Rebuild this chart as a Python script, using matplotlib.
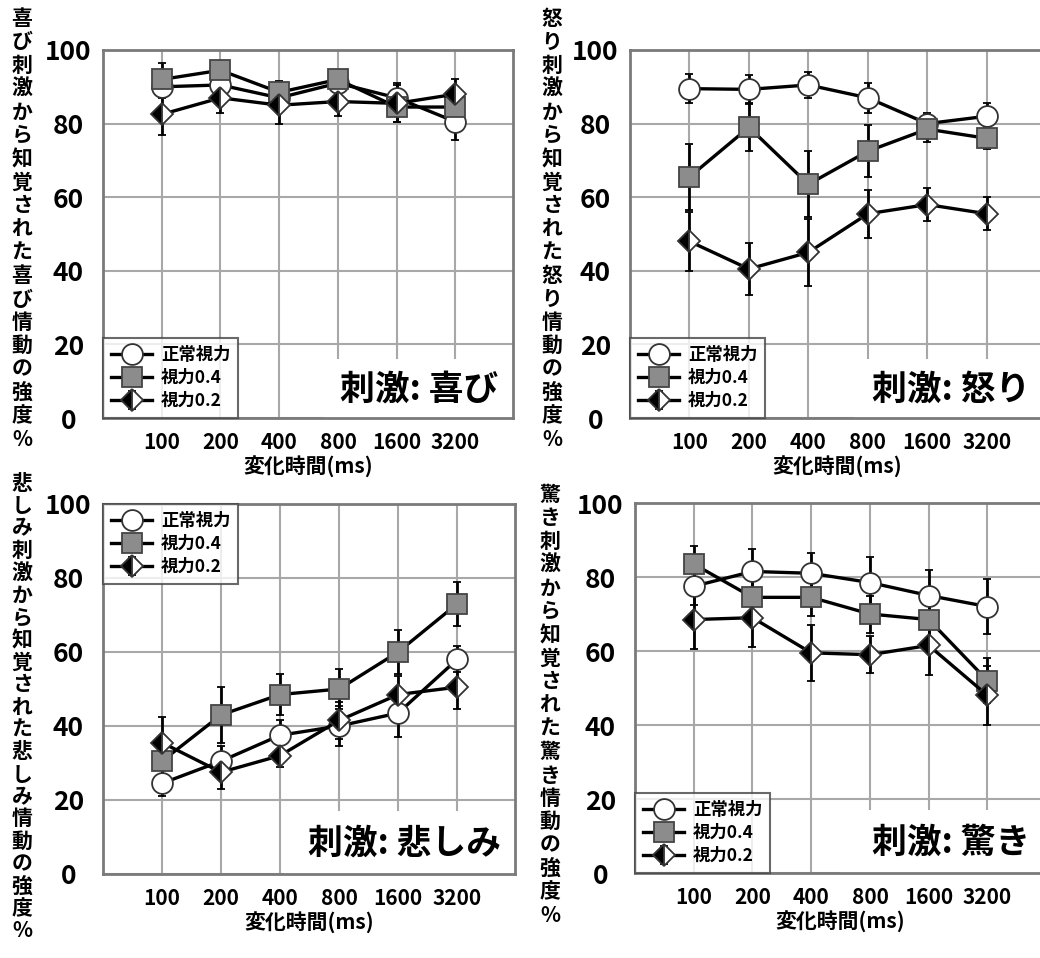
import numpy as np
import matplotlib
matplotlib.use('Agg')
import matplotlib.pyplot as plt
from matplotlib.patches import Rectangle

plt.rcParams['font.family'] = ['Noto Sans CJK JP', 'DejaVu Sans']
plt.rcParams['font.weight'] = 'bold'

x_labels = ['100', '200', '400', '800', '1600', '3200']
series_names = ['正常視力', '視力0.4', '視力0.2']

joy_normal = [90, 90.5, 87, 91, 87, 80.5]
joy_normal_err = [3, 3, 3, 2, 4, 5]
joy_04 = [92, 94.5, 88.5, 92, 84.5, 84.5]
joy_04_err = [4.5, 2, 3, 2, 4, 4]
joy_02 = [82.5, 87, 85, 86, 85.5, 88]
joy_02_err = [5.5, 4, 5, 4, 5, 4]

anger_normal = [89.5, 89.3, 90.5, 87, 80, 82]
anger_normal_err = [4, 4, 3.5, 4, 3, 3.5]
anger_04 = [65.5, 79, 63.5, 72.5, 78.5, 76]
anger_04_err = [9, 6.5, 9, 7, 3.5, 3]
anger_02 = [48, 40.5, 45, 55.5, 58, 55.5]
anger_02_err = [8, 7, 9, 6.5, 4.5, 4.5]

sad_normal = [24.5, 30.5, 37.5, 40, 43.5, 58]
sad_normal_err = [3.5, 4, 4, 5.5, 6.5, 3.5]
sad_04 = [30.5, 43, 48.5, 50, 60, 73]
sad_04_err = [5, 7.5, 5.5, 5.5, 6, 6]
sad_02 = [35.5, 27.5, 32, 41.5, 48.5, 50.5]
sad_02_err = [7, 4.5, 3, 5, 5, 6]

surp_normal = [77.5, 81.5, 81, 78.5, 75, 72]
surp_normal_err = [5, 6, 5.5, 7, 7, 7.5]
surp_04 = [83.5, 74.5, 74.5, 70, 68.5, 52]
surp_04_err = [5, 5, 5, 5, 5, 6]
surp_02 = [68.5, 69, 59.5, 59, 61.5, 48]
surp_02_err = [8, 8, 7.5, 5, 8, 8]

W, H = 1040, 958
fig = plt.figure(figsize=(W / 100, H / 100), dpi=100)

def add_ax(left, top, right, bottom):
    return fig.add_axes([left / W, 1 - bottom / H, (right - left) / W, (bottom - top) / H])

styles = [
    dict(marker='o', markersize=15, markerfacecolor='white', markeredgecolor='#333333'),
    dict(marker='s', markersize=15, markerfacecolor='#8c8c8c', markeredgecolor='#444444'),
    dict(marker='D', markersize=11.5, fillstyle='left', markerfacecolor='black',
         markerfacecoloralt='white', markeredgecolor='#333333'),
]

def panel(ax, data, errs, title, legend_loc, box):
    xs = np.arange(len(x_labels))
    for vals, err, st, name in zip(data, errs, styles, series_names):
        ax.errorbar(xs, vals, yerr=err, color='black', lw=2.4, elinewidth=2,
                    capsize=3, capthick=2, markeredgewidth=1.3, label=name,
                    zorder=3, **st)
    ax.set_xlim(-1.0, 5.98)
    ax.set_ylim(0, 100)
    ax.set_yticks([0, 20, 40, 60, 80, 100])
    ax.set_xticks(xs)
    ax.set_xticklabels(x_labels)
    ax.tick_params(axis='both', length=0)
    ax.tick_params(axis='y', labelsize=19, pad=25)
    ax.tick_params(axis='x', labelsize=15, pad=10)
    for lab in ax.get_yticklabels():
        lab.set_horizontalalignment('center')
        lab.set_fontweight('bold')
    for lab in ax.get_xticklabels():
        lab.set_fontweight('bold')
    ax.grid(True, color='#a8a8a8', lw=1.5)
    ax.set_axisbelow(True)
    for sp in ax.spines.values():
        sp.set_color('#7a7a7a')
        sp.set_linewidth(2)
    ax.set_xlabel('変化時間(ms)', fontsize=15, fontweight='bold', labelpad=2)
    ax.add_patch(Rectangle((box[0], 0), 1 - box[0], box[1], transform=ax.transAxes,
                           facecolor='white', edgecolor='none', zorder=1.5))
    ax.text(0.965, box[1] / 2, title, transform=ax.transAxes, ha='right', va='center',
            fontsize=25, fontweight='bold', zorder=4)
    leg = ax.legend(loc=legend_loc, fontsize=12.5, frameon=True, fancybox=False,
                    borderaxespad=0, handlelength=2.4, labelspacing=0.3,
                    borderpad=0.45, handletextpad=0.5)
    leg.get_frame().set_edgecolor('#444444')
    leg.get_frame().set_linewidth(1.5)
    leg.set_zorder(5)

def vlabel(x, y_top, text, spacing=1.14):
    fig.text(x / W, 1 - y_top / H, '\n'.join(text), ha='center', va='top',
             fontsize=15, fontweight='bold', linespacing=spacing)

ax1 = add_ax(103, 50, 513, 418)
panel(ax1, [joy_normal, joy_04, joy_02], [joy_normal_err, joy_04_err, joy_02_err],
      '刺激: 喜び', 'lower left', (0.54, 0.16))
ax2 = add_ax(630, 50, 1045, 418)
panel(ax2, [anger_normal, anger_04, anger_02], [anger_normal_err, anger_04_err, anger_02_err],
      '刺激: 怒り', 'lower left', (0.54, 0.16))
ax3 = add_ax(103, 504, 515, 874)
panel(ax3, [sad_normal, sad_04, sad_02], [sad_normal_err, sad_04_err, sad_02_err],
      '刺激: 悲しみ', 'upper left', (0.44, 0.17))
ax4 = add_ax(635, 503, 1045, 873)
panel(ax4, [surp_normal, surp_04, surp_02], [surp_normal_err, surp_04_err, surp_02_err],
      '刺激: 驚き', 'lower left', (0.5, 0.17))

vlabel(22, 8, '喜び刺激から知覚された喜び情動の強度%')
vlabel(552, 8, '怒り刺激から知覚された怒り情動の強度%')
vlabel(22, 473, '悲しみ刺激から知覚された悲しみ情動の強度%', spacing=1.08)
vlabel(550, 484, '驚き刺激から知覚された驚き情動の強度%')

fig.savefig('out.png', dpi=100)
